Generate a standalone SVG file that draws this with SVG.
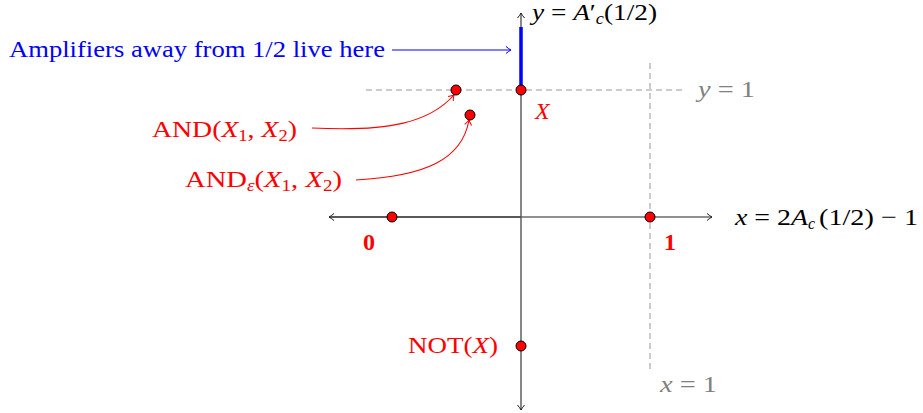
<svg xmlns="http://www.w3.org/2000/svg" width="923" height="413" viewBox="0 0 923 413">
<style>
text{font-family:"Liberation Serif","DejaVu Serif",serif;font-size:24px}
.r{fill:#ff0000}
.g{fill:#808080}
.b{fill:#0000ff}
.k{fill:#000}
.i{font-style:italic}
.bd{font-weight:bold}
.s{font-size:16px}
.pt{fill:#ff0000;stroke:#000;stroke-width:1}
.dash{stroke:#999;stroke-width:1;stroke-dasharray:6,4;fill:none}
</style>
<defs>
<marker id="ak" markerWidth="10" markerHeight="10" refX="7" refY="5" orient="auto" markerUnits="userSpaceOnUse">
<path d="M2,1.5 Q5,4 7,5 Q5,6 2,8.5" fill="none" stroke="#222" stroke-width="1"/>
</marker>
<marker id="ar" markerWidth="10" markerHeight="10" refX="7" refY="5" orient="auto" markerUnits="userSpaceOnUse">
<path d="M2,1.5 Q5,4 7,5 Q5,6 2,8.5" fill="none" stroke="#ff0000" stroke-width="1"/>
</marker>
<marker id="ab" markerWidth="10" markerHeight="10" refX="7" refY="5" orient="auto" markerUnits="userSpaceOnUse">
<path d="M2,1.5 Q5,4 7,5 Q5,6 2,8.5" fill="none" stroke="#0000ff" stroke-width="1"/>
</marker>
</defs>
<g id="connectors">
<line class="dash" x1="366" y1="90" x2="684" y2="90"/>
<line class="dash" x1="650" y1="63" x2="650" y2="372"/>
<line x1="330" y1="217" x2="712" y2="217" stroke="#222" stroke-width="1.2" marker-end="url(#ak)"/>
<line x1="521" y1="217" x2="329" y2="217" stroke="#222" stroke-width="1.2" marker-end="url(#ak)"/>
<line x1="521" y1="217" x2="521" y2="13" stroke="#555" stroke-width="1.4" marker-end="url(#ak)"/>
<line x1="521" y1="217" x2="521" y2="410" stroke="#555" stroke-width="1.4" marker-end="url(#ak)"/>
<line x1="521" y1="27" x2="521" y2="89" stroke="#0000ff" stroke-width="3.5"/>
<line x1="392" y1="50" x2="511" y2="50" stroke="#0000ff" stroke-width="1.2" marker-end="url(#ab)"/>
<path d="M312,128 C390,132 430,122 454,95" fill="none" stroke="#ff0000" stroke-width="1.1" marker-end="url(#ar)"/>
<path d="M356,180 C425,176 462,160 469,120" fill="none" stroke="#ff0000" stroke-width="1.1" marker-end="url(#ar)"/>
</g>
<g id="axis-labels">
<text x="532" y="20" class="k" textLength="125" lengthAdjust="spacingAndGlyphs"><tspan class="i">y</tspan> = <tspan class="i">A</tspan>′<tspan class="s i" dy="4">c</tspan><tspan dy="-4">(1/2)</tspan></text>
<text x="735" y="225" class="k" textLength="73" lengthAdjust="spacingAndGlyphs"><tspan class="i">x</tspan> = 2<tspan class="i">A</tspan></text>
<text x="808" y="229" class="k s i">c</text>
<text x="819" y="225" class="k" textLength="99" lengthAdjust="spacingAndGlyphs">(1/2) − 1</text>
<text x="698" y="97" class="g" textLength="57" lengthAdjust="spacingAndGlyphs"><tspan class="i">y</tspan> = 1</text>
<text x="660" y="392" class="g" textLength="57" lengthAdjust="spacingAndGlyphs"><tspan class="i">x</tspan> = 1</text>
<text x="9" y="57" class="b" textLength="376" lengthAdjust="spacingAndGlyphs">Amplifiers away from 1/2 live here</text>
</g>
<g id="node-zero">
<circle class="pt" cx="392" cy="217" r="5"/>
<text x="363" y="250" class="r bd" font-size="21">0</text>
</g>
<g id="node-one">
<circle class="pt" cx="650" cy="217" r="5"/>
<text x="664" y="250" class="r bd" font-size="21">1</text>
</g>
<g id="node-X">
<circle class="pt" cx="521" cy="90" r="5"/>
<text x="535" y="119" class="r i">X</text>
</g>
<g id="node-and">
<circle class="pt" cx="456" cy="90" r="5"/>
<text x="152" y="137" class="r" textLength="145" lengthAdjust="spacingAndGlyphs">AND(<tspan class="i">X</tspan><tspan class="s" dy="4">1</tspan><tspan dy="-4">, </tspan><tspan class="i">X</tspan><tspan class="s" dy="4">2</tspan><tspan dy="-4">)</tspan></text>
</g>
<g id="node-and-eps">
<circle class="pt" cx="470" cy="115" r="5"/>
<text x="185" y="187" class="r" textLength="157" lengthAdjust="spacingAndGlyphs">AND<tspan class="i s" dy="4">ε</tspan><tspan dy="-4">(</tspan><tspan class="i">X</tspan><tspan class="s" dy="4">1</tspan><tspan dy="-4">, </tspan><tspan class="i">X</tspan><tspan class="s" dy="4">2</tspan><tspan dy="-4">)</tspan></text>
</g>
<g id="node-not">
<circle class="pt" cx="521" cy="346" r="5"/>
<text x="408" y="353" class="r" textLength="90" lengthAdjust="spacingAndGlyphs">NOT(<tspan class="i">X</tspan>)</text>
</g>
</svg>
